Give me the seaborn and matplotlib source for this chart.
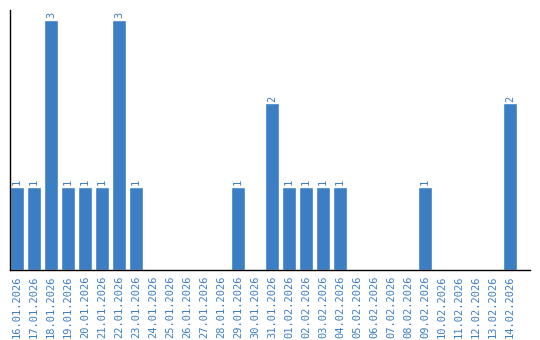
import matplotlib
matplotlib.use("Agg")
import matplotlib.pyplot as plt
import seaborn as sns
import pandas as pd

dates = ["16.01.2026", "17.01.2026", "18.01.2026", "19.01.2026", "20.01.2026",
         "21.01.2026", "22.01.2026", "23.01.2026", "24.01.2026", "25.01.2026",
         "26.01.2026", "27.01.2026", "28.01.2026", "29.01.2026", "30.01.2026",
         "31.01.2026", "01.02.2026", "02.02.2026", "03.02.2026", "04.02.2026",
         "05.02.2026", "06.02.2026", "07.02.2026", "08.02.2026", "09.02.2026",
         "10.02.2026", "11.02.2026", "12.02.2026", "13.02.2026", "14.02.2026"]
counts = [1, 1, 3, 1, 1, 1, 3, 1, 0, 0, 0, 0, 0, 1, 0, 2, 1, 1, 1, 1,
          0, 0, 0, 0, 1, 0, 0, 0, 0, 2]

color = "#3b7ec4"
sns.set_style("white")
plt.rcParams['font.family'] = ['DejaVu Sans Mono']

df = pd.DataFrame({"date": dates, "count": counts})
fig = plt.figure(figsize=(5.4, 3.4), dpi=100)
ax = fig.add_axes([10/540, 70/340, 520/540, 260/340])
sns.barplot(data=df, x="date", y="count", color=color, saturation=1,
            width=0.82, ax=ax)
ax.set_xlim(-0.41, 30.18)
ax.set_ylim(0, 3.12)
ax.set_xlabel("")
ax.set_ylabel("")
ax.set_yticks([])
ax.tick_params(axis="x", length=0, pad=4, labelsize=7.5, labelcolor=color,
               labelrotation=90)
for s in ["top", "right"]:
    ax.spines[s].set_visible(False)
for s in ["left", "bottom"]:
    ax.spines[s].set_color("black")
    ax.spines[s].set_linewidth(1)
for i, v in enumerate(counts):
    if v > 0:
        ax.text(i, v + 0.02, str(v), rotation=90, ha="center", va="bottom",
                color=color, fontsize=7.5)
fig.savefig("out.png", dpi=100)
